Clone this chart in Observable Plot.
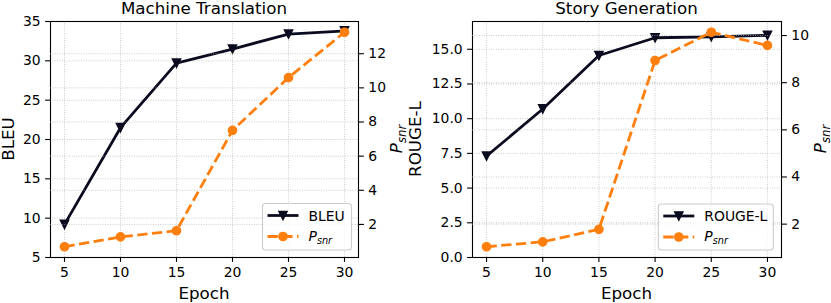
<!DOCTYPE html>
<html>
<head>
<meta charset="utf-8">
<script src="https://cdn.jsdelivr.net/npm/d3@7"></script>
<script src="https://cdn.jsdelivr.net/npm/@observablehq/plot@0.6"></script>
<style>
  html, body { margin: 0; padding: 0; background: white; }
  #wrap { position: relative; width: 831px; height: 303px; overflow: hidden; font-family: "DejaVu Sans", sans-serif; }
  #wrap > svg, #wrap > div { position: absolute; top: 0; }
</style>
</head>
<body>
<div id="wrap"></div>
<script>
// ---- data ----
const epochs = [5, 10, 15, 20, 25, 30];
const bleu = [9.2, 21.5, 29.7, 31.5, 33.4, 33.8];
const psnrMT = [0.69, 1.27, 1.63, 7.51, 10.6, 13.26];
const rouge = [7.3, 10.7, 14.55, 15.83, 15.9, 16.0];
const psnrSG = [1.04, 1.25, 1.78, 8.94, 10.14, 9.58];

const xTicks = [5, 10, 15, 20, 25, 30];
const bleuTicks = [5, 10, 15, 20, 25, 30, 35];
const mtPsnrTicks = [2, 4, 6, 8, 10, 12];
const rougeTicks = [0, 2.5, 5, 7.5, 10, 12.5, 15];
const sgPsnrTicks = [2, 4, 6, 8, 10];

const titles = ["Machine Translation", "Story Generation"];
const metricNames = ["BLEU", "ROUGE-L"];
const xLabel = "Epoch";

// ---- styles ----
const NAVY = "#0b0b20";
const ORANGE = "#ff7f0e";
const TICK_FS = 13.9;
const LABEL_FS = 16.7;
const R = 4.15;

const triDown = {
  draw(context, size) {
    const r = Math.sqrt(size / Math.PI);
    context.moveTo(0, r);
    context.lineTo(-r, -r);
    context.lineTo(r, -r);
    context.closePath();
  }
};

function pad(ext) { const d = (ext[1] - ext[0]) * 0.05; return [ext[0] - d, ext[1] + d]; }

const wrap = document.getElementById("wrap");
const gridStyle = {stroke: "#b0b0b0", strokeOpacity: 1, strokeWidth: 0.8, strokeDasharray: "0.8,1.6"};
const tickOpts = {tickSize: 4.9, tickPadding: 4.9, label: null, strokeWidth: 1.1};

function panel(cfg) {
  const {left, width, mL, mR, yDomain, yTicks, yFormat, metric, psnr, psnrTicks} = cfg;
  const mT = 21, mB = 46, H = 303;
  const xDomain = [3.75, 31.25];
  const rows = epochs.map((e, i) => ({epoch: e, m: metric[i], p: psnr[i]}));
  const common = {
    width, height: H, marginLeft: mL, marginRight: mR, marginTop: mT, marginBottom: mB,
    style: {fontFamily: "DejaVu Sans", fontSize: TICK_FS + "px", background: "transparent", color: "black", overflow: "visible"}
  };
  const base = Plot.plot({
    ...common,
    x: {domain: xDomain},
    y: {domain: yDomain},
    marks: [
      Plot.gridX(xTicks, gridStyle),
      Plot.gridY(yTicks, gridStyle),
      Plot.line(rows, {x: "epoch", y: "m", stroke: NAVY, strokeWidth: 2.78, strokeLinejoin: "round", strokeLinecap: "square"}),
      Plot.dot(rows, {x: "epoch", y: "m", symbol: triDown, r: R, fill: NAVY, stroke: NAVY, strokeWidth: 1.39}),
      Plot.axisX(xTicks, {...tickOpts, tickFormat: d => String(d)}),
      Plot.axisY(yTicks, {...tickOpts, tickFormat: yFormat}),
      Plot.frame({stroke: "black", strokeWidth: 1.1})
    ]
  });
  const over = Plot.plot({
    ...common,
    x: {domain: xDomain, axis: null},
    y: {domain: pad(d3.extent(psnr))},
    marks: [
      Plot.gridY(psnrTicks, gridStyle),
      Plot.line(rows, {x: "epoch", y: "p", stroke: ORANGE, strokeWidth: 2.78, strokeDasharray: "10.3,4.45", strokeLinecap: "butt", strokeLinejoin: "round"}),
      Plot.dot(rows, {x: "epoch", y: "p", symbol: "circle", r: R, fill: ORANGE, stroke: ORANGE, strokeWidth: 1.39}),
      Plot.axisY(psnrTicks, {...tickOpts, anchor: "right", tickFormat: d => String(d)})
    ]
  });
  base.style.left = left + "px";
  over.style.left = left + "px";
  base.style.position = "absolute";
  over.style.position = "absolute";
  wrap.appendChild(base);
  wrap.appendChild(over);
}

panel({left: 0, width: 415, mL: 50, mR: 57, yDomain: [5, 35], yTicks: bleuTicks, yFormat: d => String(d), metric: bleu, psnr: psnrMT, psnrTicks: mtPsnrTicks});
panel({left: 415, width: 416, mL: 57, mR: 50, yDomain: [0, 17], yTicks: rougeTicks, yFormat: d3.format(".1f"), metric: rouge, psnr: psnrSG, psnrTicks: sgPsnrTicks});

// ---- text & legends overlay ----
const layer = d3.select(wrap).append("svg")
  .attr("width", 831).attr("height", 303)
  .style("position", "absolute").style("left", "0px").style("top", "0px")
  .style("font-family", "DejaVu Sans");

function txt(x, y, s, size, rot) {
  return layer.append("text").attr("text-anchor", "middle").attr("font-size", size).attr("fill", "black")
    .attr("transform", `translate(${x},${y})` + (rot ? " rotate(-90)" : "")).text(s);
}
function psnrText(g, x, y, size, anchor, rot) {
  const t = g.append("text").attr("text-anchor", anchor).attr("font-size", size).attr("fill", "black")
    .attr("font-style", "italic")
    .attr("transform", `translate(${x},${y})` + (rot ? " rotate(-90)" : ""));
  t.append("tspan").text("P");
  t.append("tspan").attr("font-size", size * 0.7).attr("dy", size * 0.22).text("snr");
  return t;
}

txt(204, 14, titles[0], LABEL_FS);
txt(626.5, 14, titles[1], LABEL_FS);
txt(204, 299, xLabel, LABEL_FS);
txt(626.5, 299, xLabel, LABEL_FS);
txt(13.5, 139, metricNames[0], LABEL_FS, true);
txt(421, 139, metricNames[1], LABEL_FS, true);
psnrText(layer, 402, 139, LABEL_FS, "middle", true);
psnrText(layer, 826, 139, LABEL_FS, "middle", true);

function legend(x0, y0, w, h, name) {
  const g = layer.append("g");
  g.append("rect").attr("x", x0).attr("y", y0).attr("width", w).attr("height", h)
    .attr("rx", 3).attr("fill", "white").attr("fill-opacity", 0.8).attr("stroke", "#cccccc").attr("stroke-width", 1.1);
  const lx0 = x0 + 5, lx1 = x0 + 36, cx = (lx0 + lx1) / 2;
  const y1 = y0 + 12, y2 = y0 + 33;
  g.append("line").attr("x1", lx0).attr("x2", lx1).attr("y1", y1).attr("y2", y1).attr("stroke", NAVY).attr("stroke-width", 2.78);
  g.append("path").attr("d", `M${cx},${y1 + R}L${cx - R},${y1 - R}L${cx + R},${y1 - R}Z`).attr("fill", NAVY).attr("stroke", NAVY).attr("stroke-width", 1.39);
  g.append("line").attr("x1", lx0).attr("x2", lx1).attr("y1", y2).attr("y2", y2).attr("stroke", ORANGE).attr("stroke-width", 2.78).attr("stroke-dasharray", "10.3,4.45");
  g.append("circle").attr("cx", cx).attr("cy", y2).attr("r", R).attr("fill", ORANGE).attr("stroke", ORANGE).attr("stroke-width", 1.39);
  g.append("text").attr("x", x0 + 46).attr("y", y1 + 5).attr("font-size", TICK_FS).attr("fill", "black").text(name);
  psnrText(g, x0 + 46, y2 + 4, TICK_FS, "start", false);
}
legend(262.5, 203.5, 89, 46.5, metricNames[0]);
legend(658.3, 204, 115, 46, metricNames[1]);
</script>
</body>
</html>
